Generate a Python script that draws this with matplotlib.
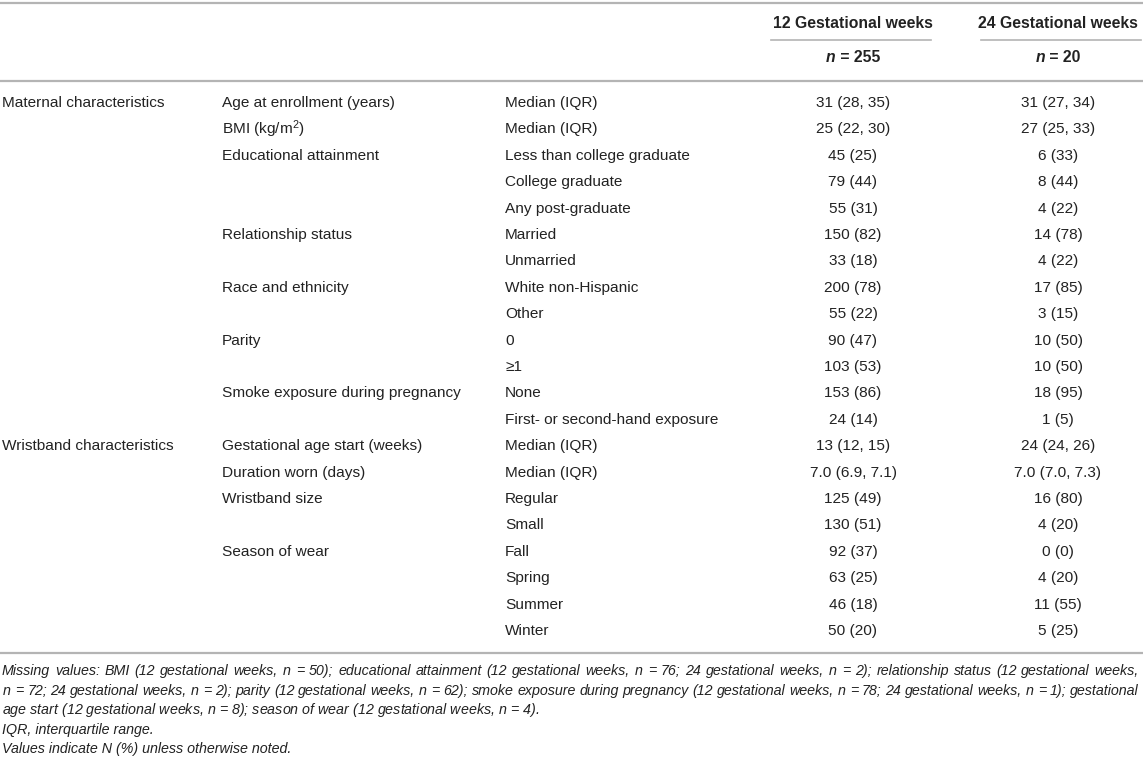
import matplotlib.pyplot as plt

plt.rcParams['font.family'] = ['Liberation Sans', 'DejaVu Sans']
plt.rcParams['mathtext.fontset'] = 'custom'
plt.rcParams['mathtext.rm'] = 'Liberation Sans'
plt.rcParams['mathtext.it'] = 'Liberation Sans:italic'

# table data
groups = ['Maternal characteristics', '', '', '', '', '', '', '', '', '', '', '', '',
          'Wristband characteristics', '', '', '', '', '', '', '']
variables = ['Age at enrollment (years)', 'BMI (kg/m$^2$)', 'Educational attainment', '', '',
             'Relationship status', '', 'Race and ethnicity', '', 'Parity', '',
             'Smoke exposure during pregnancy', '',
             'Gestational age start (weeks)', 'Duration worn (days)', 'Wristband size', '',
             'Season of wear', '', '', '']
levels = ['Median (IQR)', 'Median (IQR)', 'Less than college graduate', 'College graduate',
          'Any post-graduate', 'Married', 'Unmarried', 'White non-Hispanic', 'Other',
          '0', '\u22651', 'None', 'First- or second-hand exposure',
          'Median (IQR)', 'Median (IQR)', 'Regular', 'Small', 'Fall', 'Spring', 'Summer', 'Winter']
week12 = ['31 (28, 35)', '25 (22, 30)', '45 (25)', '79 (44)', '55 (31)', '150 (82)', '33 (18)',
          '200 (78)', '55 (22)', '90 (47)', '103 (53)', '153 (86)', '24 (14)',
          '13 (12, 15)', '7.0 (6.9, 7.1)', '125 (49)', '130 (51)', '92 (37)', '63 (25)',
          '46 (18)', '50 (20)']
week24 = ['31 (27, 34)', '27 (25, 33)', '6 (33)', '8 (44)', '4 (22)', '14 (78)', '4 (22)',
          '17 (85)', '3 (15)', '10 (50)', '10 (50)', '18 (95)', '1 (5)',
          '24 (24, 26)', '7.0 (7.0, 7.3)', '16 (80)', '4 (20)', '0 (0)', '4 (20)',
          '11 (55)', '5 (25)']
headers = ['12 Gestational weeks', '24 Gestational weeks']
n_values = ['255', '20']
footnotes = [
    'Missing values: BMI (12 gestational weeks, $n$ = 50); educational attainment (12 gestational weeks, $n$ = 76; 24 gestational weeks, $n$ = 2); relationship status (12 gestational weeks,',
    '$n$ = 72; 24 gestational weeks, $n$ = 2); parity (12 gestational weeks, $n$ = 62); smoke exposure during pregnancy (12 gestational weeks, $n$ = 78; 24 gestational weeks, $n$ = 1); gestational',
    'age start (12 gestational weeks, $n$ = 8); season of wear (12 gestational weeks, $n$ = 4).',
    'IQR, interquartile range.',
    'Values indicate N (%) unless otherwise noted.',
]
justified = [True, True, False, False, False]

W, H = 1143, 761
fig = plt.figure(figsize=(W / 100, H / 100), dpi=100)
ax = fig.add_axes([0, 0, 1, 1])
ax.set_xlim(0, W)
ax.set_ylim(H, 0)
ax.axis('off')

txt = '#222222'
line_c = '#b4b4b4'
fs = 11.1
fs_head = 11.3
fs_note = 10.25

col_x = [2, 222, 505]
val_x = [853, 1058]

# rules
ax.plot([0, W], [3, 3], color=line_c, lw=1.6)
ax.plot([771, 931], [40, 40], color=line_c, lw=1.2)
ax.plot([981, 1141], [40, 40], color=line_c, lw=1.2)
ax.plot([0, W], [81, 81], color=line_c, lw=1.6)
ax.plot([0, W], [653, 653], color=line_c, lw=1.6)

fig.canvas.draw()
r = fig.canvas.get_renderer()

# header
for x, h, nv in zip(val_x, headers, n_values):
    ax.text(x, 23, h, ha='center', va='center', fontsize=fs_head, fontweight='bold', color=txt)
    t1 = ax.text(0, 58, 'n', ha='left', va='center', fontsize=fs_head, fontweight='bold',
                 fontstyle='italic', color=txt)
    t2 = ax.text(0, 58, ' = ' + nv, ha='left', va='center', fontsize=fs_head, fontweight='bold',
                 color=txt)
    w1 = t1.get_window_extent(r).width
    w2 = t2.get_window_extent(r).width
    start = x - (w1 + w2) / 2
    t1.set_x(start)
    t2.set_x(start + w1)

# body rows
y0, dy = 103, 26.4
for i in range(len(levels)):
    y = y0 + i * dy
    ax.text(col_x[0], y, groups[i], ha='left', va='center', fontsize=fs, color=txt)
    ax.text(col_x[1], y, variables[i], ha='left', va='center', fontsize=fs, color=txt)
    ax.text(col_x[2], y, levels[i], ha='left', va='center', fontsize=fs, color=txt)
    ax.text(val_x[0], y, week12[i], ha='center', va='center', fontsize=fs, color=txt)
    ax.text(val_x[1], y, week24[i], ha='center', va='center', fontsize=fs, color=txt)

# footnotes (first two lines justified like the journal layout)
x_left, x_right = 2, 1139
for j, (f, just) in enumerate(zip(footnotes, justified)):
    y = 671 + j * 19.6
    if not just:
        ax.text(x_left, y, f, ha='left', va='center', fontsize=fs_note,
                fontstyle='italic', color=txt)
        continue
    words = f.split(' ')
    parts = [ax.text(0, y, w, ha='left', va='center', fontsize=fs_note,
                     fontstyle='italic', color=txt) for w in words]
    widths = [p.get_window_extent(r).width for p in parts]
    gap = (x_right - x_left - sum(widths)) / (len(words) - 1)
    xpos = x_left
    for p, w in zip(parts, widths):
        p.set_x(xpos)
        xpos += w + gap

fig.savefig('out.png', dpi=100)
